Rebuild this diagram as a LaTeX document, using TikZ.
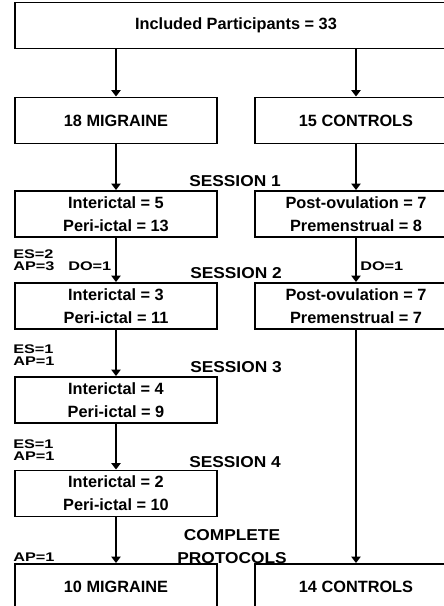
\documentclass[tikz,border=0pt]{standalone}
\usepackage{fontspec}
\setmainfont{Liberation Sans}
\newfontfamily\widefont[FakeStretch=1.3]{Liberation Sans}
\newfontfamily\midfont[FakeStretch=1.1]{Liberation Sans}
\usetikzlibrary{arrows.meta}
\tikzset{
  box/.style={draw,line width=1.4pt,minimum width=5.05cm,minimum height=1.15cm,inner sep=0pt,align=center,
    font=\fontsize{11.6}{16.4}\selectfont\bfseries},
  sess/.style={inner sep=0pt,align=center,font=\fontsize{11.2}{16.4}\selectfont\midfont\bfseries},
  note/.style={inner sep=0pt,align=left,font=\fontsize{8.9}{8.2}\selectfont\widefont\bfseries},
  arr/.style={line width=1.4pt,-{Triangle[width=6.5pt,length=4.5pt]}}
}
\begin{document}
\begin{tikzpicture}[x=0.025cm,y=-0.025cm]
      \useasboundingbox (0,0) rectangle (444,606);
      \clip (0,0) rectangle (444,606);
      \node[box,minimum width=11.05cm] (incl) at (236,25.5) {Included Participants = 33};
      \node[box] (mig) at (116,120.5) {18 MIGRAINE};
      \node[box] (ctl) at (356,120.5) {15 CONTROLS};
      \node[box] (mig1) at (116,214) {Interictal = 5\\Peri-ictal = 13};
      \node[box] (ctl1) at (356,214) {Post-ovulation = 7\\Premenstrual = 8};
      \node[box] (mig2) at (116,306) {Interictal = 3\\Peri-ictal = 11};
      \node[box] (ctl2) at (356,306) {Post-ovulation = 7\\Premenstrual = 7};
      \node[box] (mig3) at (116,400) {Interictal = 4\\Peri-ictal = 9};
      \node[box] (mig4) at (116,493.5) {Interictal = 2\\Peri-ictal = 10};
      \node[box] (migend) at (116,587) {10 MIGRAINE};
      \node[box] (ctlend) at (356,587) {14 CONTROLS};
      \node[sess] (s1) at (235,181) {SESSION 1};
      \node[sess] (s2) at (236,273) {SESSION 2};
      \node[sess] (s3) at (236,367) {SESSION 3};
      \node[sess] (s4) at (235,462) {SESSION 4};
      \node[sess] (done) at (232,546.5) {COMPLETE\\PROTOCOLS};
      \node[note,anchor=west] (drop2) at (13,260) {ES=2\\AP=3};
      \node[note,anchor=west] (do2) at (68,266) {DO=1};
      \node[note,anchor=west] (doc2) at (360,266) {DO=1};
      \node[note,anchor=west] (drop3) at (13,355) {ES=1\\AP=1};
      \node[note,anchor=west] (drop4) at (13,450) {ES=1\\AP=1};
      \node[note,anchor=west] (drop5) at (13,557) {AP=1};
      \draw[arr] (mig.north |- incl.south) -- (mig.north);
      \draw[arr] (ctl.north |- incl.south) -- (ctl.north);
      \draw[arr] (mig) -- (mig1);
      \draw[arr] (ctl) -- (ctl1);
      \draw[arr] (mig1) -- (mig2);
      \draw[arr] (ctl1) -- (ctl2);
      \draw[arr] (mig2) -- (mig3);
      \draw[arr] (mig3) -- (mig4);
      \draw[arr] (mig4) -- (migend);
      \draw[arr] (ctl2) -- (ctlend);
\end{tikzpicture}
\end{document}
